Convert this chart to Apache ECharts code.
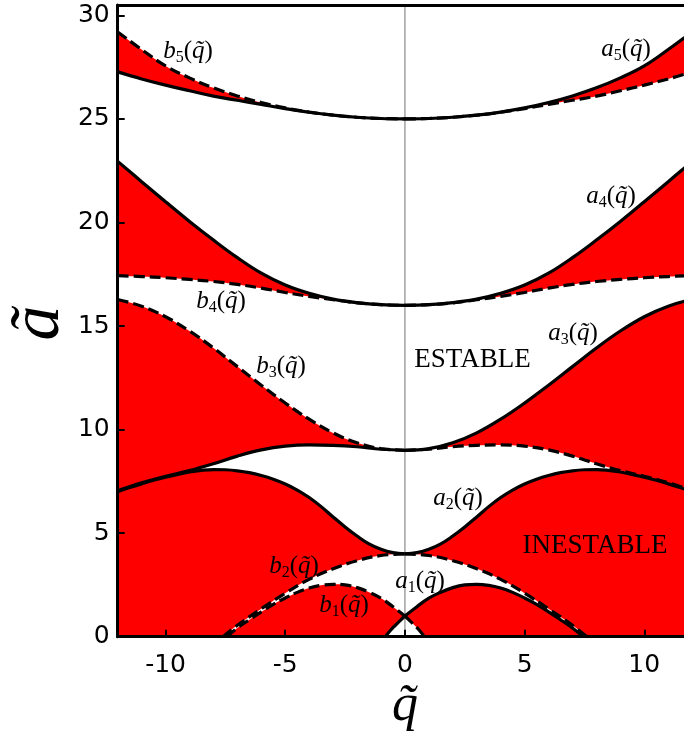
<!DOCTYPE html>
<html><head><meta charset="utf-8">
<script src="https://cdn.jsdelivr.net/npm/echarts@6/dist/echarts.min.js"></script>
<style>html,body{margin:0;padding:0;background:#fff}#c{width:684px;height:738px}</style>
</head><body><div id="c"></div>
<script>
// q grids (right half, q >= 0); left half is the mirror image q -> -q
const qStep1  = [0,1,2,3,4,5,6,7,8,9,10,11,12];
const qStep05 = [0,0.5,1,1.5,2,2.5,3,3.5,4,4.5,5,5.5,6,6.5,7,7.5,8,8.5,9,9.5,10,10.5,11,11.5,12];
const qB1 = [0,0.2,0.4,0.6,0.82];
const qA1 = [0,0.5,1,1.5,2,2.5,3,3.5,4,4.5,5,5.5,6,6.5,7,7.45];
const qB2 = [0,1,2,3,4,5,6,7,7.6];

// characteristic curves (values of a~)
const b1 = [1,0.78,0.55,0.31,0];
const a1 = [1,1.45,1.86,2.15,2.37,2.5,2.53,2.48,2.35,2.14,1.87,1.56,1.2,0.82,0.42,0];
const b2 = [4,3.92,3.67,3.28,2.77,2.1,1.35,0.55,0];
const a2 = [4,4.06,4.22,4.48,4.86,5.3,5.78,6.28,6.72,7.08,7.37,7.6,7.78,7.92,8.01,8.06,8.07,8.03,7.95,7.83,7.7,7.55,7.38,7.2,7.0];
const b3 = [9,9.05,9.17,9.24,9.26,9.2,9.02,8.72,8.35,8.02,7.75,7.43,7.05];
const a3 = [9,9.08,9.36,9.84,10.5,11.28,12.14,13.04,13.94,14.76,15.45,15.96,16.28];
const b4 = [16,16.03,16.12,16.27,16.43,16.62,16.83,17.01,17.15,17.25,17.33,17.39,17.43];
const a4 = [16,16.03,16.13,16.3,16.58,16.98,17.55,18.3,19.15,20.05,21.0,21.97,22.95];
const b5 = [25,25.02,25.08,25.18,25.32,25.5,25.7,25.9,26.1,26.36,26.63,26.93,27.27];
const a5 = [25,25.02,25.08,25.18,25.33,25.53,25.79,26.11,26.5,26.98,27.56,28.35,29.2];

const xTicks = [-10,-5,0,5,10];
const yTicks = [0,5,10,15,20,25,30];

const RED = '#ff0000', WHITE = '#ffffff';
const DASH = [11,5];
// top-to-bottom order, fill colour below the curve, line style right / left
const shapes = [
  {q:qStep1,  v:a5, fill:RED,   right:'solid', left:DASH},
  {q:qStep1,  v:b5, fill:WHITE, right:DASH,    left:'solid'},
  {q:qStep1,  v:a4, fill:RED,   right:'solid', left:'solid'},
  {q:qStep1,  v:b4, fill:WHITE, right:DASH,    left:DASH},
  {q:qStep1,  v:a3, fill:RED,   right:'solid', left:DASH},
  {q:qStep1,  v:b3, fill:WHITE, right:DASH,    left:'solid'},
  {q:qStep05, v:a2, fill:RED,   right:'solid', left:'solid'},
  {q:qB2,     v:b2, fill:WHITE, right:DASH,    left:DASH},
  {q:qA1,     v:a1, fill:RED,   right:'solid', left:DASH},
  {q:qB1,     v:b1, fill:WHITE, right:DASH,    left:'solid'}
];
function half(qs, vs, sign){
  const d = qs.map((q,i)=>[sign*q, vs[i]]);
  return sign < 0 ? d.reverse() : d;
}
const SM = 0.4;
const series = [];
shapes.forEach(s=>{
  [1,-1].forEach(sg=>{
    series.push({type:'line', data:half(s.q,s.v,sg), smooth:SM, symbol:'none',
      lineStyle:{width:0, opacity:0}, areaStyle:{color:s.fill, opacity:1, origin:'start'}, z:1, silent:true, animation:false});
  });
});
series.push({type:'line', data:[[0,0],[0,30.5]], symbol:'none', lineStyle:{color:'#a8a8a8', width:1.6}, z:2, silent:true, animation:false});
shapes.forEach(s=>{
  [1,-1].forEach(sg=>{
    series.push({type:'line', data:half(s.q,s.v,sg), smooth:SM, symbol:'none',
      lineStyle:{color:'#000', width:3.2, type: sg>0 ? s.right : s.left}, z:3, silent:true, animation:false});
  });
});

const serif = 'Liberation Serif';
const rich = {
  i:{fontFamily:serif, fontStyle:'italic', fontSize:25, lineHeight:30, verticalAlign:'middle', fill:'#000'},
  p:{fontFamily:serif, fontSize:25, lineHeight:30, verticalAlign:'middle', fill:'#000'},
  s:{fontFamily:serif, fontSize:16, lineHeight:15, verticalAlign:'bottom', fill:'#000'}
};
function curveLabel(letter, n, x, y){
  return {type:'text', x:x, y:y, z:20, style:{text:'{i|'+letter+'}{s|'+n+'}{p|(}{i|q\u0303}{p|)}', rich:rich, align:'center', verticalAlign:'middle'}};
}
const graphics = [
  curveLabel('a',5,626,49), curveLabel('a',4,611,196), curveLabel('a',3,573,333),
  curveLabel('a',2,458,498), curveLabel('a',1,420,581),
  curveLabel('b',5,188,51), curveLabel('b',4,221,301), curveLabel('b',3,281,366),
  curveLabel('b',2,294,566), curveLabel('b',1,344,605),
  {type:'text', x:472.5, y:359.5, z:20, style:{text:'ESTABLE', fontFamily:serif, fontSize:27, fill:'#000', align:'center', verticalAlign:'middle'}},
  {type:'text', x:595, y:545.5, z:20, style:{text:'INESTABLE', fontFamily:serif, fontSize:27, fill:'#000', align:'center', verticalAlign:'middle'}},
  {type:'text', x:40, y:323, rotation:Math.PI/2, z:20, style:{text:'a\u0303', fontFamily:serif, fontStyle:'italic', fontSize:70, fill:'#000', align:'center', verticalAlign:'middle'}},
  {type:'text', x:405, y:706, z:20, style:{text:'q\u0303', fontFamily:serif, fontStyle:'italic', fontSize:52, fill:'#000', align:'center', verticalAlign:'middle'}}
];

const chart = echarts.init(document.getElementById('c'), null, {renderer:'canvas'});
chart.setOption({
  animation:false,
  backgroundColor:'#fff',
  grid:{left:117.7, top:5, right:0, height:631.7, show:false},
  xAxis:[
    {type:'value', min:-12, max:11.66, position:'bottom', z:10,
     axisLine:{show:true, onZero:false, lineStyle:{color:'#000', width:3}},
     axisTick:{show:true, inside:true, length:7, customValues:xTicks, lineStyle:{color:'#000', width:2}},
     axisLabel:{show:true, customValues:xTicks, fontFamily:'DejaVu Sans', fontSize:25, color:'#000', margin:16},
     splitLine:{show:false}},
    {type:'value', min:-12, max:11.66, position:'top', z:10,
     axisLine:{show:true, onZero:false, lineStyle:{color:'#000', width:3}},
     axisTick:{show:false}, axisLabel:{show:false}, splitLine:{show:false}}
  ],
  yAxis:{type:'value', min:0, max:30.5, z:10,
     axisLine:{show:true, onZero:false, lineStyle:{color:'#000', width:3}},
     axisTick:{show:true, inside:true, length:7, customValues:yTicks, lineStyle:{color:'#000', width:2}},
     axisLabel:{show:true, customValues:yTicks, fontFamily:'DejaVu Sans', fontSize:25, color:'#000', margin:8},
     splitLine:{show:false}},
  series:series,
  graphic:graphics
});
</script></body></html>
